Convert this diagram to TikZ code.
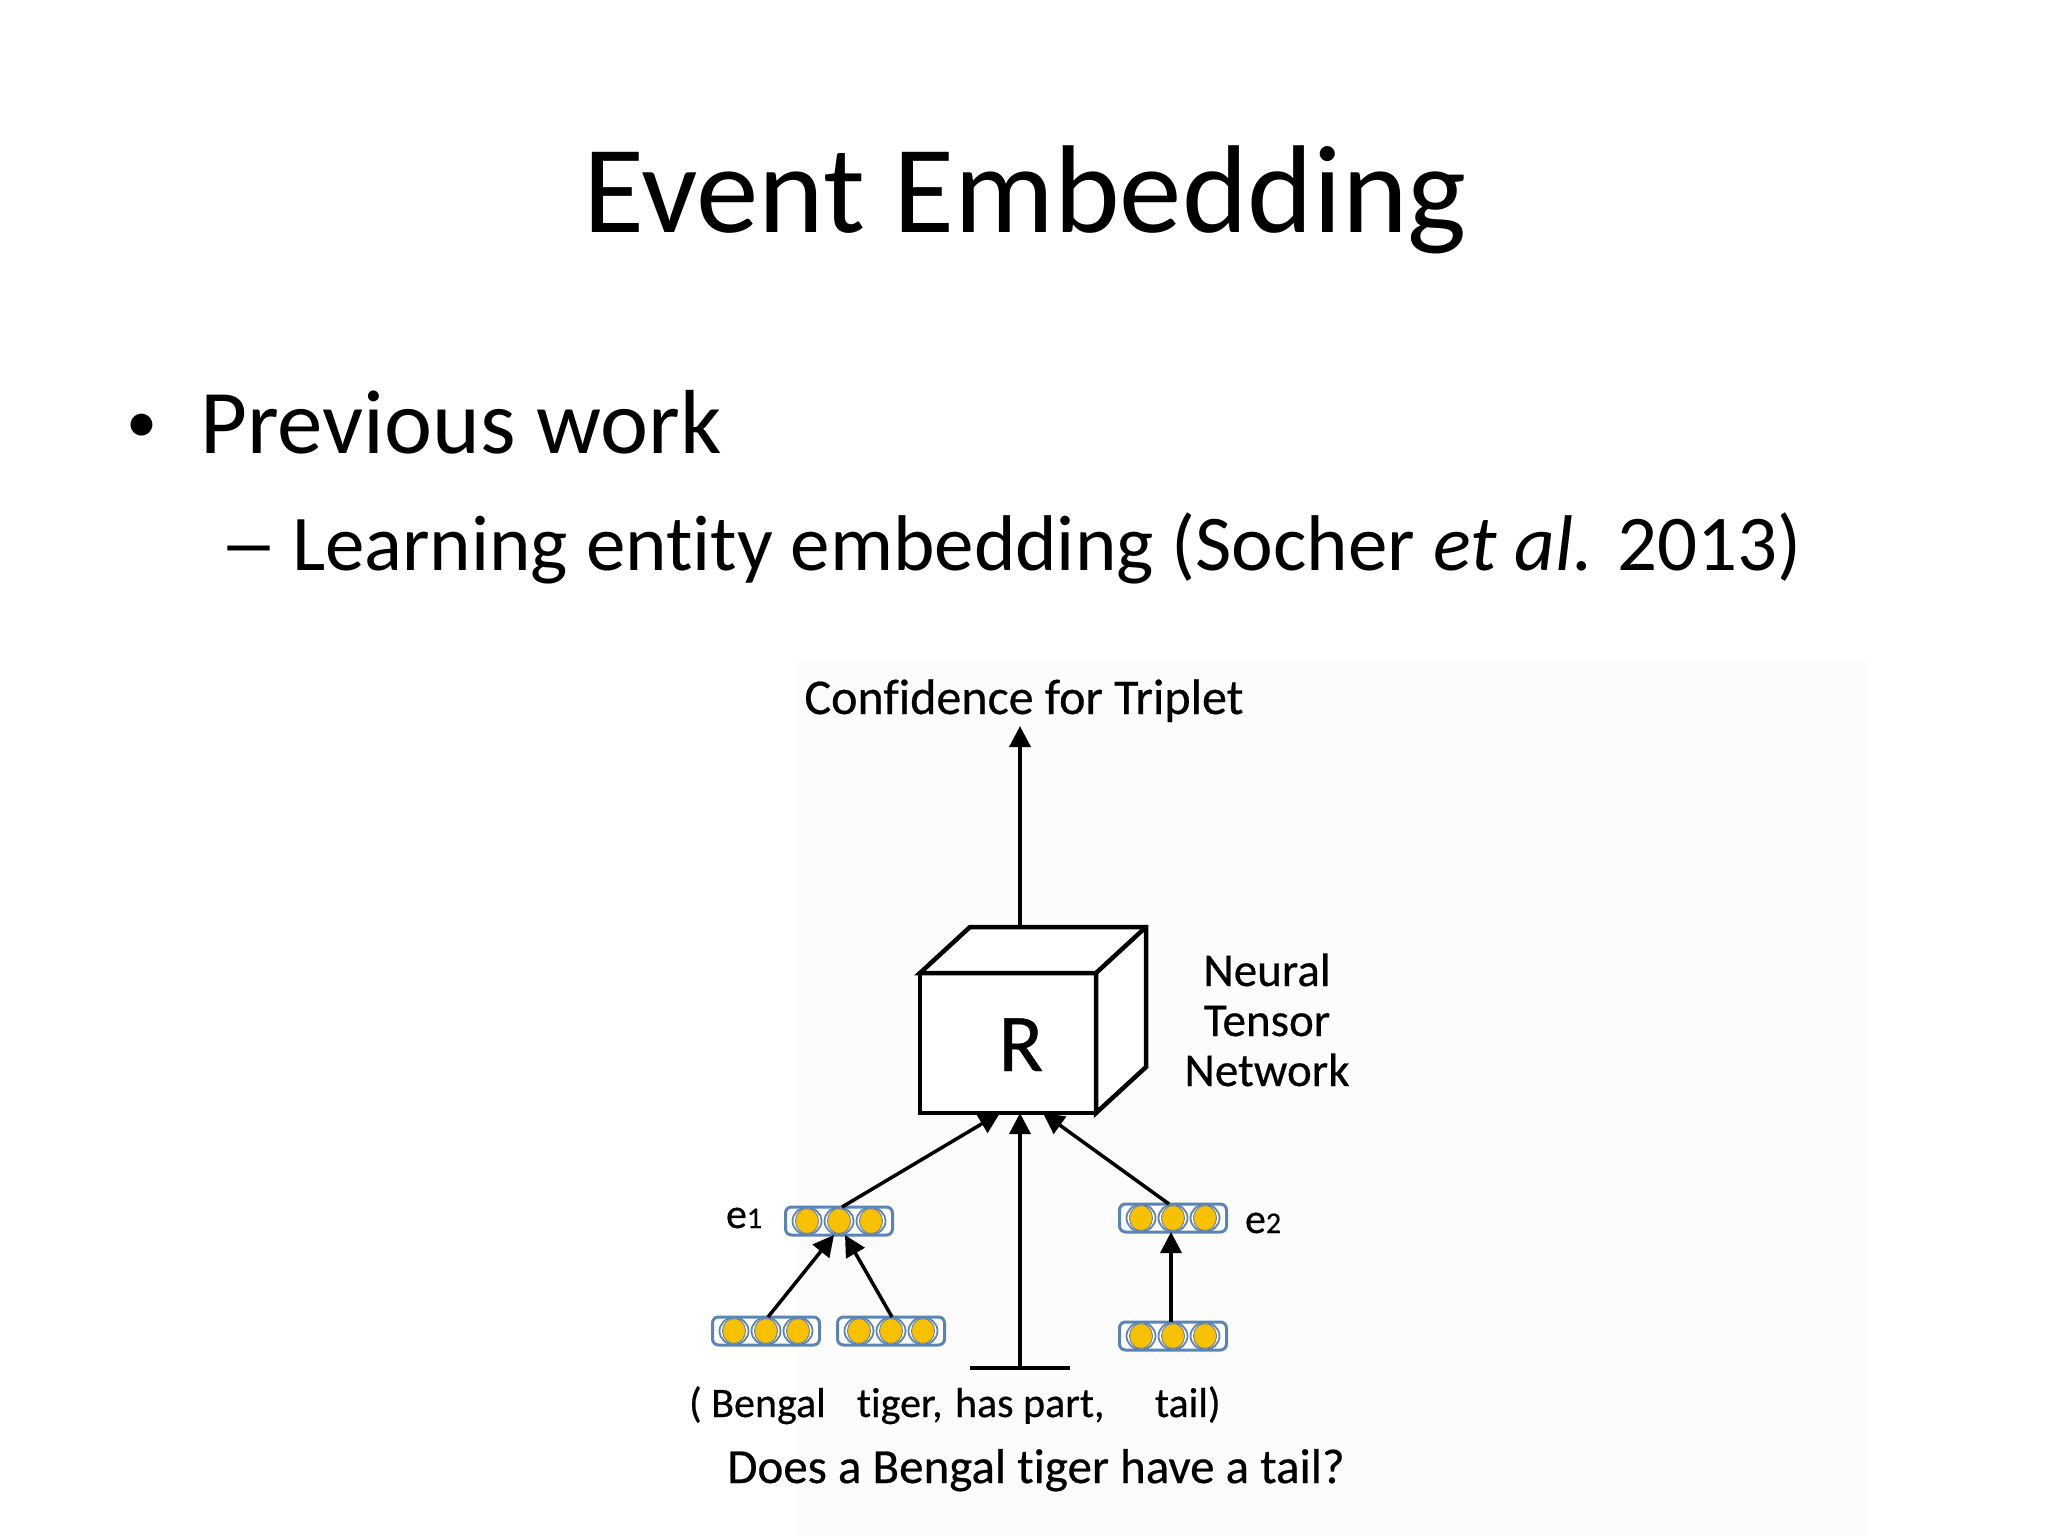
\documentclass[tikz,border=0pt]{standalone}
\usepackage{fontspec}
\setmainfont{Carlito}[Ligatures=NoCommon]
\newfontfamily\gill{Carlito}[Ligatures=NoCommon, FakeBold=0.5]
\usetikzlibrary{arrows.meta,calc}
\definecolor{vblue}{HTML}{5A84B4}
\definecolor{vyel}{HTML}{F7C100}
\definecolor{vring}{HTML}{6C7F96}
\newcommand\vecballs[1]{%
  \foreach \dx in {-32,0,32}{%
    \draw[vblue,line width=1.8pt,fill=white] ($(#1)+(\dx,0)$) ellipse [x radius=14.5pt, y radius=13.5pt];
    \draw[vring,line width=0.9pt,fill=vyel] ($(#1)+(\dx,0)$) ellipse [x radius=11.5pt, y radius=12.5pt];
  }}
\begin{document}
\begin{tikzpicture}[x=1pt,y=-1pt,
  every node/.style={inner sep=0pt, outer sep=0pt},
  arr/.style={line width=3.5pt, -{Triangle[length=21pt,width=21pt]}},
  vecbox/.style={draw=vblue, line width=3pt, rounded corners=6pt, minimum width=107pt, minimum height=28pt, fill=white},
  cube/.style={line width=4.5pt, line join=miter},
  titlef/.style={font=\fontsize{125pt}{150pt}\selectfont},
  lvlone/.style={font=\fontsize{91pt}{110pt}\selectfont},
  lvltwo/.style={font=\fontsize{79pt}{96pt}\selectfont},
  diag/.style={font=\gill\fontsize{49pt}{55pt}\selectfont},
  ntn/.style={font=\gill\fontsize{47pt}{55pt}\selectfont},
  diagsm/.style={font=\gill\fontsize{42pt}{50pt}\selectfont}]
\useasboundingbox (0,0) rectangle (2048,1536);
\fill[white] (0,0) rectangle (2048,1536);
\fill[black!1] (797,662) rectangle (1868,1536);

% slide text
\node[titlef, anchor=base] (title) at (1025,232) {Event Embedding};
\node[font=\fontsize{62pt}{70pt}\selectfont, anchor=base west] (bul) at (126,442) {•};
\node[lvlone, anchor=base west] (prev) at (200,453) {Previous work};
\node[lvltwo, anchor=base west] (dash) at (219,570) {\scalebox{1.5}[1]{–}};
\node[lvltwo, anchor=base west] (learn) at (292,570) {Learning entity embedding (Socher \textit{et al.} 2013)};

% diagram
\node[diag, font=\gill\fontsize{50pt}{55pt}\selectfont, anchor=base] (conf) at (1024,714) {Confidence for Triplet};
\node[draw, line width=4.5pt, fill=white, minimum width=176pt, minimum height=140pt] (box) at (1008,1043) {};
\draw[cube, fill=white] (box.north west) -- ++(50,-46) -- ++(176,0) -- ++(0,140) -- (box.south east) -- (box.north east) -- cycle;
\draw[cube] (box.north east) -- ++(50,-46);
\node[font=\gill\fontsize{82pt}{86pt}\selectfont, anchor=base] (rl) at (1021,1071) {R};
\node[ntn, anchor=base] (nn1) at (1267,986) {Neural};
\node[ntn, anchor=base] (nn2) at (1267,1036) {Tensor};
\node[ntn, anchor=base] (nn3) at (1267,1086) {Network};

\coordinate (topc) at (1020,927);
\draw[arr, shorten >=4pt] (topc) -- (conf.south -| topc);

% vectors
\node[vecbox] (e1) at (839,1221) {};
\node[vecbox] (e2) at (1173,1218) {};
\node[vecbox] (b1) at (766,1331) {};
\node[vecbox] (b2) at (891,1331) {};
\node[vecbox] (b3) at (1173,1336) {};
\vecballs{e1}\vecballs{e2}\vecballs{b1}\vecballs{b2}\vecballs{b3}

\node[diagsm, anchor=base west] (le1) at (726,1228) {e\fontsize{30pt}{30pt}\selectfont 1};
\node[diagsm, anchor=base west] (le2) at (1245,1233) {e\fontsize{30pt}{30pt}\selectfont 2};

% connectors
\draw[arr] ($(b1.north)+(2,0)$) -- ($(e1.south)+(-5,0)$);
\draw[arr] ($(b2.north)+(1,0)$) -- ($(e1.south)+(6,0)$);
\draw[arr] ($(b3.north)+(-2,0)$) -- ($(e2.south)+(-2,0)$);
\draw[arr] ($(e1.north)+(3,0)$) -- ($(box.south)+(-8,0)$);
\draw[arr] ($(e2.north)+(-4,0)$) -- ($(box.south)+(35,0)$);
\coordinate (tbar) at (1020,1368);
\draw[arr] (tbar) -- ($(box.south)+(12,0)$);
\draw[line width=4pt] ($(tbar)+(-50,0)$) -- ($(tbar)+(50,0)$);

% triple words
\node[diagsm, anchor=base west] (w1) at (689,1417) {( Bengal};
\node[diagsm, anchor=base west] (w2) at (857,1417) {tiger,};
\node[diagsm, anchor=base west] (w3) at (955,1417) {has part,};
\node[diagsm, anchor=base west] (w4) at (1155,1417) {tail)};
\node[diag, anchor=base] (q) at (1036,1483) {Does a Bengal tiger have a tail?};
\end{tikzpicture}
\end{document}
